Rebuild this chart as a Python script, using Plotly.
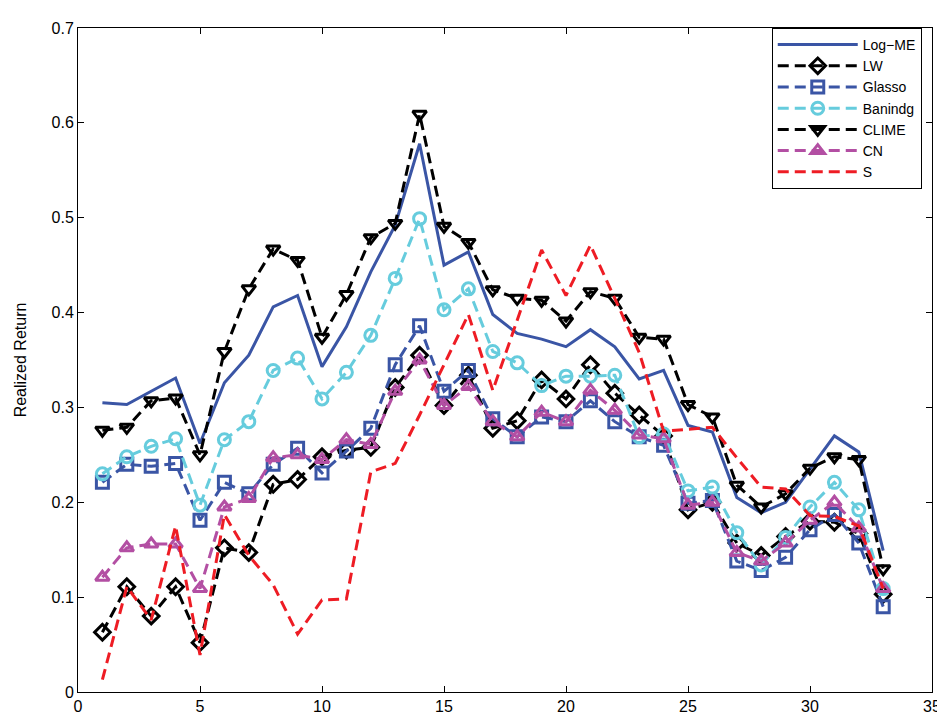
import plotly.graph_objects as go

x = list(range(1, 34))

log_me = [0.305, 0.303, 0.317, 0.331, 0.262, 0.326, 0.355, 0.406, 0.418, 0.343, 0.385, 0.443, 0.492, 0.578, 0.450, 0.464, 0.398, 0.378, 0.372, 0.364, 0.382, 0.364, 0.330, 0.339, 0.281, 0.274, 0.205, 0.189, 0.200, 0.235, 0.270, 0.253, 0.149]
lw = [0.063, 0.111, 0.080, 0.111, 0.052, 0.152, 0.147, 0.219, 0.224, 0.248, 0.255, 0.258, 0.321, 0.355, 0.302, 0.334, 0.278, 0.286, 0.329, 0.309, 0.345, 0.315, 0.292, 0.270, 0.192, 0.200, 0.157, 0.144, 0.164, 0.180, 0.179, 0.167, 0.103]
glasso = [0.221, 0.240, 0.238, 0.241, 0.181, 0.221, 0.209, 0.240, 0.257, 0.231, 0.254, 0.278, 0.345, 0.386, 0.317, 0.339, 0.288, 0.269, 0.290, 0.285, 0.307, 0.285, 0.269, 0.260, 0.199, 0.202, 0.138, 0.128, 0.142, 0.171, 0.187, 0.157, 0.090]
banindg = [0.230, 0.248, 0.259, 0.267, 0.197, 0.266, 0.285, 0.339, 0.352, 0.309, 0.337, 0.376, 0.436, 0.499, 0.403, 0.425, 0.359, 0.347, 0.323, 0.333, 0.333, 0.334, 0.269, 0.272, 0.212, 0.216, 0.168, 0.134, 0.163, 0.195, 0.221, 0.192, 0.109]
clime = [0.276, 0.279, 0.307, 0.310, 0.250, 0.359, 0.425, 0.467, 0.455, 0.374, 0.419, 0.479, 0.494, 0.609, 0.491, 0.474, 0.424, 0.415, 0.413, 0.391, 0.422, 0.415, 0.374, 0.372, 0.303, 0.290, 0.218, 0.195, 0.209, 0.236, 0.248, 0.245, 0.130]
cn = [0.121, 0.152, 0.156, 0.156, 0.109, 0.195, 0.204, 0.247, 0.250, 0.245, 0.266, 0.261, 0.317, 0.350, 0.302, 0.322, 0.285, 0.269, 0.295, 0.285, 0.318, 0.297, 0.271, 0.267, 0.197, 0.200, 0.147, 0.138, 0.157, 0.181, 0.200, 0.173, 0.109]
s = [0.013, 0.111, 0.076, 0.175, 0.039, 0.187, 0.144, 0.113, 0.061, 0.097, 0.098, 0.232, 0.241, 0.292, 0.345, 0.398, 0.318, 0.393, 0.466, 0.418, 0.471, 0.415, 0.358, 0.275, 0.277, 0.279, 0.247, 0.216, 0.214, 0.186, 0.185, 0.175, 0.109]

BLUE = "#3A55A5"
CYAN = "#66CCDD"
MAG = "#B34FA3"
RED = "#EE1C24"
BLACK = "#000000"
DASH = "11px,6px"

series = [
    ("Log\u2212ME", log_me, BLUE, "solid", None),
    ("LW", lw, BLACK, DASH, "diamond-open"),
    ("Glasso", glasso, BLUE, DASH, "square-open"),
    ("Banindg", banindg, CYAN, DASH, "circle-open"),
    ("CLIME", clime, BLACK, DASH, "triangle-down-open"),
    ("CN", cn, MAG, DASH, "triangle-up-open"),
    ("S", s, RED, DASH, None),
]

fig = go.Figure()
for name, vals, color, dash, sym in series:
    if sym is None:
        fig.add_trace(go.Scatter(x=x, y=vals, name=name, mode="lines",
                                 line=dict(color=color, width=3, dash=dash)))
    else:
        fig.add_trace(go.Scatter(x=x, y=vals, name=name, mode="lines+markers",
                                 line=dict(color=color, width=3, dash=dash),
                                 marker=dict(symbol=sym, size=12, color=color,
                                             line=dict(color=color, width=3))))

axis_common = dict(showline=True, linecolor="black", linewidth=1, mirror="allticks",
                   ticks="inside", ticklen=6, tickcolor="black", showgrid=False,
                   zeroline=False, tickfont=dict(size=16, color="black"))

fig.update_layout(
    width=945, height=719,
    margin=dict(l=68, r=13, t=17, b=23),
    paper_bgcolor="white", plot_bgcolor="white",
    font=dict(family="Liberation Sans, Arial, sans-serif", color="black"),
    xaxis=dict(range=[0, 35], dtick=5, tick0=0, **axis_common),
    yaxis=dict(range=[0, 0.7], dtick=0.1, tick0=0,
               title=dict(text="Realized Return", font=dict(size=16), standoff=20),
               **axis_common),
    legend=dict(x=0.988, y=1.0, xanchor="right", yanchor="top",
                bordercolor="black", borderwidth=1, bgcolor="white",
                font=dict(size=14, color="black"), itemwidth=80,
                tracegroupgap=0),
    showlegend=True,
)

fig.write_html("out.html")
